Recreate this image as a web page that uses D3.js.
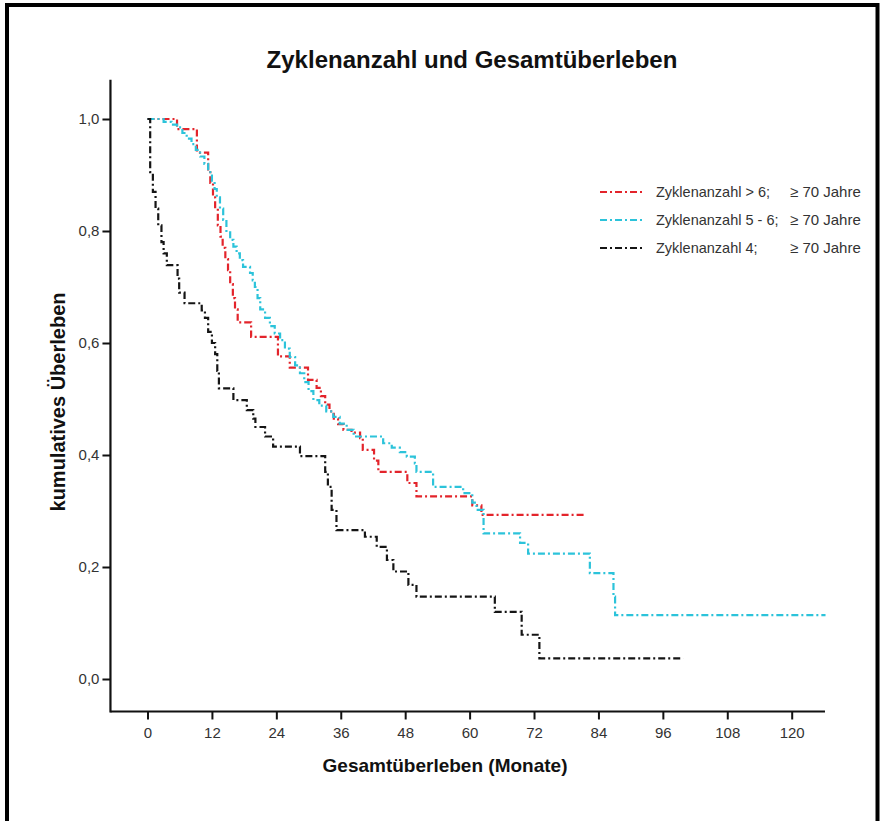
<!DOCTYPE html>
<html>
<head>
<meta charset="utf-8">
<script src="https://cdn.jsdelivr.net/npm/d3@7"></script>
<style>
  html, body { margin: 0; padding: 0; background: #fff; }
  svg { display: block; font-family: "Liberation Sans", Arial, sans-serif; }
</style>
</head>
<body>
<svg id="chart" width="883" height="821"></svg>
<script>
// Kaplan-Meier survival by number of chemotherapy cycles (patients aged >= 70)
const xTicks = [0, 12, 24, 36, 48, 60, 72, 84, 96, 108, 120];
const yTicks = [0, 0.2, 0.4, 0.6, 0.8, 1.0];

// Zyklenanzahl > 6 : event times (months) and survival after each step
const redTimes = [0, 5.5, 9.2, 11.3, 11.7, 12.2, 12.6, 13.1, 13.6, 14.0, 14.5, 15.0, 15.4, 15.9, 16.3, 16.8,
  19.3, 24.3, 26.5, 29.9, 31.5, 32.3, 33.1, 33.9, 34.7, 35.5, 36.5, 38.0, 39.6, 40.1, 42.2, 43.0,
  48.4, 50.1, 60.5, 62.2];
const redSurv = [1.0, 0.982, 0.94, 0.91, 0.886, 0.86, 0.84, 0.81, 0.79, 0.77, 0.75, 0.73, 0.705, 0.68, 0.66, 0.637,
  0.611, 0.576, 0.556, 0.534, 0.52, 0.505, 0.49, 0.478, 0.465, 0.455, 0.445, 0.44, 0.43, 0.409, 0.39, 0.37,
  0.35, 0.326, 0.31, 0.293];
const redEnd = 81.5;

// Zyklenanzahl 5 - 6
const cyanTimes = [0, 3.0, 4.5, 5.5, 6.5, 7.3, 8.2, 9.0, 9.8, 10.6, 11.3, 12.0, 12.5, 12.9, 13.5, 14.1, 14.7,
  15.4, 16.0, 16.6, 17.2, 17.8, 19.1, 19.6, 20.0, 20.5, 21.0, 21.9, 22.8, 23.7, 24.7, 25.6, 26.5, 27.5,
  28.4, 29.2, 30.0, 30.9, 32.0, 33.3, 34.6, 35.8, 37.1, 38.4, 43.9, 45.5, 47.0, 48.3, 49.8, 50.1, 53.2,
  58.8, 60.5, 61.3, 62.6, 69.4, 70.9, 82.4, 86.8, 87.1];
const cyanSurv = [1.0, 0.995, 0.99, 0.985, 0.975, 0.965, 0.955, 0.945, 0.933, 0.92, 0.905, 0.89, 0.875, 0.86, 0.84, 0.82, 0.80,
  0.784, 0.772, 0.76, 0.748, 0.736, 0.725, 0.712, 0.70, 0.68, 0.66, 0.645, 0.63, 0.617, 0.605, 0.59, 0.575, 0.56,
  0.546, 0.53, 0.514, 0.498, 0.488, 0.478, 0.468, 0.456, 0.445, 0.433, 0.421, 0.413, 0.405, 0.397, 0.385, 0.37, 0.343,
  0.332, 0.315, 0.302, 0.26, 0.243, 0.224, 0.189, 0.147, 0.114];
const cyanEnd = 126.3;

// Zyklenanzahl 4
const blackTimes = [0, 0.5, 1.0, 1.5, 2.0, 2.6, 3.0, 3.6, 5.6, 5.9, 6.9, 10.1, 10.7, 11.3, 12.0, 12.6, 13.0, 13.3,
  16.0, 18.5, 19.7, 20.1, 21.9, 23.4, 28.4, 33.1, 33.6, 34.3, 35.2, 40.5, 42.7, 44.6, 45.8, 48.6, 50.1,
  64.7, 69.7, 73.0];
const blackSurv = [1.0, 0.905, 0.87, 0.84, 0.81, 0.78, 0.76, 0.739, 0.715, 0.69, 0.671, 0.658, 0.645, 0.62, 0.60, 0.58, 0.55, 0.519,
  0.498, 0.48, 0.465, 0.45, 0.433, 0.415, 0.398, 0.37, 0.343, 0.302, 0.266, 0.254, 0.236, 0.2125, 0.192, 0.168, 0.147,
  0.12, 0.079, 0.037];
const blackEnd = 99.8;

const seriesNames = ["Zyklenanzahl > 6;", "Zyklenanzahl 5 - 6;", "Zyklenanzahl 4;"];
const ageLabel = "\u2265 70 Jahre";
const seriesColors = ["#e3242b", "#2cc3da", "#151515"];

const series = [
  { times: redTimes, surv: redSurv, end: redEnd },
  { times: cyanTimes, surv: cyanSurv, end: cyanEnd },
  { times: blackTimes, surv: blackSurv, end: blackEnd }
];

const svg = d3.select("#chart");

svg.append("rect").attr("width", 883).attr("height", 821).attr("fill", "#fff");
// outer frame (open at the bottom edge)
svg.append("rect")
  .attr("x", 7).attr("y", 5).attr("width", 870.5).attr("height", 900)
  .attr("fill", "none").attr("stroke", "#000").attr("stroke-width", 4);

const x = d3.scaleLinear().domain([0, 120]).range([147.5, 791.7]);
const y = d3.scaleLinear().domain([0, 1]).range([679, 119]);

const xMin = -6.9, xMax = 126.2, yMin = -0.058, yMax = 1.07;

// title
svg.append("text")
  .attr("x", 472).attr("y", 60).attr("dy", "0.35em")
  .attr("text-anchor", "middle")
  .attr("font-size", 24).attr("font-weight", "bold").attr("fill", "#111")
  .text("Zyklenanzahl und Gesamtüberleben");

// axes
const xAxis = d3.axisBottom(x).tickValues(xTicks).tickSize(8).tickSizeOuter(0).tickPadding(8)
  .tickFormat(d3.format("d"));
const gx = svg.append("g").attr("transform", `translate(0,${y(yMin)})`).call(xAxis);
gx.select(".domain").remove();
gx.selectAll(".tick line").attr("stroke", "#111").attr("stroke-width", 2);
gx.selectAll(".tick text").attr("font-size", 15).attr("fill", "#333").attr("font-family", "Liberation Sans, Arial, sans-serif");

const yAxis = d3.axisLeft(y).tickValues(yTicks).tickSize(8).tickSizeOuter(0).tickPadding(3)
  .tickFormat(d => d3.format(".1f")(d).replace(".", ","));
const gy = svg.append("g").attr("transform", `translate(${x(xMin)},0)`).call(yAxis);
gy.select(".domain").remove();
gy.selectAll(".tick line").attr("stroke", "#111").attr("stroke-width", 2);
gy.selectAll(".tick text").attr("font-size", 15).attr("fill", "#333").attr("font-family", "Liberation Sans, Arial, sans-serif");

svg.append("line")
  .attr("x1", x(xMin)).attr("x2", x(xMax)).attr("y1", y(yMin)).attr("y2", y(yMin))
  .attr("stroke", "#111").attr("stroke-width", 2.2);
svg.append("line")
  .attr("x1", x(xMin)).attr("x2", x(xMin)).attr("y1", y(yMax)).attr("y2", y(yMin) + 1.1)
  .attr("stroke", "#111").attr("stroke-width", 2.2);

// axis titles
svg.append("text")
  .attr("x", 445).attr("y", 765).attr("dy", "0.35em")
  .attr("text-anchor", "middle")
  .attr("font-size", 19).attr("font-weight", "bold").attr("fill", "#111")
  .text("Gesamtüberleben (Monate)");

svg.append("text")
  .attr("transform", "translate(58,402) rotate(-90)")
  .attr("dy", "0.35em")
  .attr("text-anchor", "middle")
  .attr("font-size", 20).attr("font-weight", "bold").attr("fill", "#111")
  .text("kumulatives Überleben");

// survival curves
const stepLine = d3.line()
  .x(d => x(d[0]))
  .y(d => y(d[1]))
  .curve(d3.curveStepAfter);

const dash = "7,3,2,3";

series.forEach((s, i) => {
  const pts = s.times.map((t, k) => [t, s.surv[k]]);
  pts.push([s.end, s.surv[s.surv.length - 1]]);
  svg.append("path")
    .datum(pts)
    .attr("d", stepLine)
    .attr("fill", "none")
    .attr("stroke", seriesColors[i])
    .attr("stroke-width", 2.2)
    .attr("stroke-dasharray", dash);
});

// legend
const legendRows = [192, 220, 248];
seriesNames.forEach((name, i) => {
  const ly = legendRows[i];
  svg.append("line")
    .attr("x1", 600).attr("x2", 643).attr("y1", ly).attr("y2", ly)
    .attr("stroke", seriesColors[i]).attr("stroke-width", 2.2)
    .attr("stroke-dasharray", dash);
  svg.append("text")
    .attr("x", 656).attr("y", ly).attr("dy", "0.35em")
    .attr("font-size", 14.5).attr("fill", "#333")
    .text(name);
  svg.append("text")
    .attr("x", 790).attr("y", ly).attr("dy", "0.35em")
    .attr("font-size", 15).attr("fill", "#333")
    .text(ageLabel);
});
</script>
</body>
</html>
